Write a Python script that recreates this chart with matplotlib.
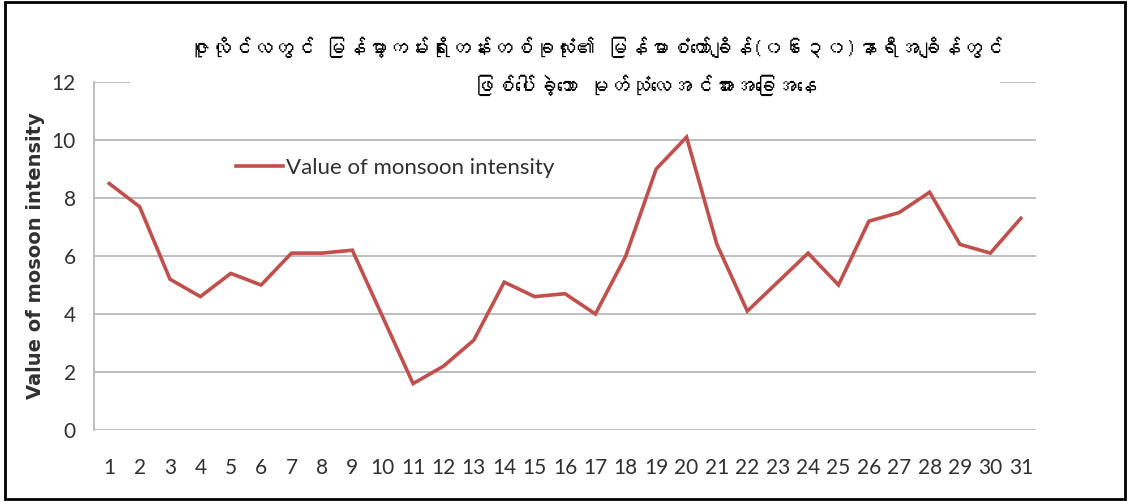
import matplotlib
matplotlib.use("Agg")
import matplotlib.pyplot as plt
from matplotlib import font_manager
from matplotlib.ft2font import FT2Font
from matplotlib.patches import Rectangle

# daily monsoon intensity, July
days = list(range(1, 32))
intensity = [8.5, 7.7, 5.2, 4.6, 5.4, 5.0, 6.1, 6.1, 6.2, 3.9,
             1.6, 2.2, 3.1, 5.1, 4.6, 4.7, 4.0, 6.0, 9.0, 10.1,
             6.4, 4.1, 5.1, 6.1, 5.0, 7.2, 7.5, 8.2, 6.4, 6.1, 7.3]
yticks = [0, 2, 4, 6, 8, 10, 12]

title1 = "ဇူလိုင်လတွင် မြန်မာ့ကမ်းရိုးတန်းတစ်ခုလုံး၏ မြန်မာစံတော်ချိန်(၀၆း၃၀)နာရီအချိန်တွင်"
title2 = "ဖြစ်ပေါ်ခဲ့သော မုတ်သုံလေအင်အားအခြေအနေ"
ylab = "Value of mosoon intensity"
leg = "Value of monsoon intensity"

# look for any installed font that has Myanmar glyphs
mm_fonts = []
for f in font_manager.fontManager.ttflist:
    try:
        if 0x1000 in FT2Font(f.fname).get_charmap():
            if f.name not in mm_fonts:
                mm_fonts.append(f.name)
    except Exception:
        pass
title_family = mm_fonts + ["DejaVu Sans"]

red = "#C0504D"
grid = "#BEBEBE"

fig = plt.figure(figsize=(11.3, 5.01), dpi=100)
ax = fig.add_axes([0.0832, 0.1417, 0.8336, 0.6946])

ax.plot(days, intensity, color=red, lw=2.6, label=leg, solid_joinstyle="miter")

ax.set_xlim(0.5, 31.5)
ax.set_ylim(0, 12)
ax.set_yticks(yticks)
ax.set_xticks(days)
ax.yaxis.grid(True, color=grid, lw=1.4)
ax.set_axisbelow(True)
for s in ["top", "right", "bottom"]:
    ax.spines[s].set_visible(False)
ax.spines["left"].set_color(grid)
ax.spines["left"].set_linewidth(1.4)
ax.tick_params(axis="both", length=0, labelsize=15, colors="#303030")
ax.tick_params(axis="x", pad=20)
ax.tick_params(axis="y", pad=13)
for t in ax.get_xticklabels() + ax.get_yticklabels():
    t.set_fontfamily("Lato")

ax.set_ylabel(ylab, fontsize=14, fontweight="bold", color="#303030", labelpad=5)

ax.legend(loc="upper left", bbox_to_anchor=(0.13, 0.84), frameon=False,
          prop={"family": "Lato", "size": 16}, handlelength=2.1,
          handletextpad=0.15, labelcolor="#303030")

# white title box over the top gridline
fig.add_artist(Rectangle((0.115, 0.80), 0.77, 0.19, transform=fig.transFigure,
                         facecolor="white", edgecolor="none", zorder=3))
fig.text(0.527, 0.905, title1, ha="center", va="center", fontsize=15,
         fontweight="bold", family=title_family, zorder=4)
fig.text(0.571, 0.83, title2, ha="center", va="center", fontsize=15,
         fontweight="bold", family=title_family, zorder=4)

# outer frame
fig.add_artist(Rectangle((0.004, 0.004), 0.992, 0.992, transform=fig.transFigure,
                         facecolor="none", edgecolor="black", lw=2, zorder=5))

fig.savefig("out.png", dpi=100)
